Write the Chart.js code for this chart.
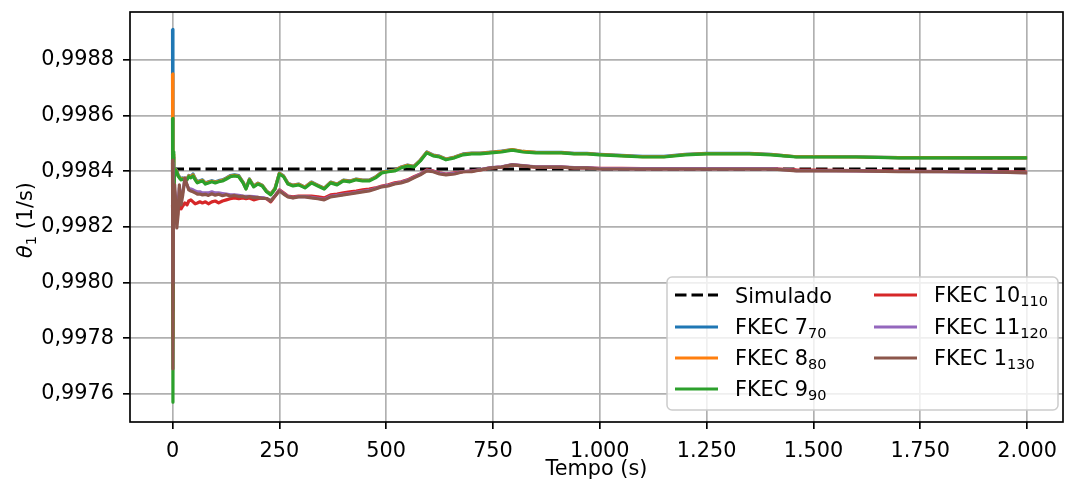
<!DOCTYPE html>
<html>
<head>
<meta charset="utf-8">
<script src="https://cdn.jsdelivr.net/npm/chart.js@4.4.1/dist/chart.umd.min.js"></script>
<style>
  html, body { margin: 0; padding: 0; background: #fff; }
  canvas { display: block; }
</style>
</head>
<body>
<canvas id="grafico" width="1065" height="485"></canvas>
<script>
// tempo (s)
const tempo = [
  0, 1, 2, 3, 5, 7, 10, 13, 16, 20,
  24, 29, 34, 38, 43, 48, 53, 58, 64, 70,
  77, 84, 92, 100, 108, 117, 126, 135, 145, 155,
  165, 172, 180, 190, 200, 210, 220, 230, 240, 250,
  260, 270, 282, 295, 310, 325, 340, 355, 370, 385,
  400, 415, 430, 445, 460, 475, 490, 505, 520, 535,
  550, 565, 580, 595, 610, 625, 640, 660, 680, 700,
  720, 745, 770, 795, 820, 850, 880, 910, 940, 970,
  1000, 1050, 1100, 1150, 1200, 1250, 1300, 1350, 1400, 1430,
  1460, 1500, 1600, 1700, 1800, 1900, 2000
];

const tempoSimulado = [0, 2000];
const simulado = [0.998408, 0.998408];

const fkec7 = [
  0.998910, 0.997900, 0.998450, 0.998330, 0.998402, 0.998409, 0.998402, 0.998387, 0.998380, 0.998373,
  0.998376, 0.998369, 0.998373, 0.998385, 0.998381, 0.998390, 0.998374, 0.998362, 0.998366, 0.998369,
  0.998358, 0.998362, 0.998366, 0.998362, 0.998366, 0.998369, 0.998376, 0.998384, 0.998387, 0.998384,
  0.998361, 0.998339, 0.998372, 0.998347, 0.998357, 0.998350, 0.998329, 0.998318, 0.998339, 0.998393,
  0.998383, 0.998357, 0.998350, 0.998354, 0.998343, 0.998361, 0.998350, 0.998339, 0.998361, 0.998354,
  0.998368, 0.998365, 0.998372, 0.998368, 0.998368, 0.998379, 0.998397, 0.998401, 0.998404, 0.998415,
  0.998422, 0.998418, 0.998440, 0.998469, 0.998458, 0.998454, 0.998444, 0.998451, 0.998462, 0.998465,
  0.998465, 0.998469, 0.998472, 0.998478, 0.998471, 0.998468, 0.998468, 0.998468, 0.998464, 0.998464,
  0.998461, 0.998457, 0.998453, 0.998453, 0.998461, 0.998464, 0.998464, 0.998464, 0.998461, 0.998456,
  0.998452, 0.998452, 0.998452, 0.998449, 0.998449, 0.998448, 0.998448
];

const fkec8 = [
  0.998750, 0.997800, 0.998460, 0.998320, 0.998400, 0.998407, 0.998400, 0.998385, 0.998378, 0.998371,
  0.998374, 0.998367, 0.998371, 0.998383, 0.998379, 0.998387, 0.998372, 0.998360, 0.998364, 0.998367,
  0.998356, 0.998360, 0.998364, 0.998360, 0.998364, 0.998367, 0.998374, 0.998382, 0.998385, 0.998382,
  0.998360, 0.998338, 0.998371, 0.998346, 0.998356, 0.998349, 0.998328, 0.998317, 0.998338, 0.998392,
  0.998382, 0.998356, 0.998349, 0.998353, 0.998342, 0.998360, 0.998349, 0.998338, 0.998360, 0.998353,
  0.998367, 0.998364, 0.998371, 0.998367, 0.998367, 0.998378, 0.998396, 0.998400, 0.998403, 0.998414,
  0.998421, 0.998417, 0.998439, 0.998468, 0.998457, 0.998453, 0.998443, 0.998450, 0.998461, 0.998464,
  0.998464, 0.998468, 0.998471, 0.998478, 0.998471, 0.998468, 0.998467, 0.998467, 0.998463, 0.998463,
  0.998460, 0.998456, 0.998452, 0.998452, 0.998460, 0.998463, 0.998463, 0.998463, 0.998460, 0.998456,
  0.998452, 0.998452, 0.998451, 0.998449, 0.998449, 0.998448, 0.998448
];

const fkec9 = [
  0.998590, 0.997570, 0.998470, 0.998310, 0.998398, 0.998405, 0.998398, 0.998383, 0.998376, 0.998369,
  0.998372, 0.998365, 0.998369, 0.998380, 0.998376, 0.998383, 0.998369, 0.998358, 0.998362, 0.998365,
  0.998354, 0.998358, 0.998362, 0.998358, 0.998362, 0.998365, 0.998372, 0.998380, 0.998383, 0.998380,
  0.998358, 0.998336, 0.998369, 0.998344, 0.998354, 0.998347, 0.998326, 0.998315, 0.998336, 0.998390,
  0.998380, 0.998354, 0.998347, 0.998351, 0.998340, 0.998358, 0.998347, 0.998336, 0.998358, 0.998351,
  0.998365, 0.998362, 0.998369, 0.998365, 0.998365, 0.998376, 0.998394, 0.998398, 0.998401, 0.998412,
  0.998419, 0.998415, 0.998437, 0.998466, 0.998455, 0.998451, 0.998441, 0.998448, 0.998459, 0.998462,
  0.998462, 0.998466, 0.998469, 0.998476, 0.998469, 0.998466, 0.998466, 0.998466, 0.998462, 0.998462,
  0.998459, 0.998455, 0.998451, 0.998451, 0.998459, 0.998462, 0.998462, 0.998462, 0.998459, 0.998455,
  0.998451, 0.998451, 0.998451, 0.998448, 0.998448, 0.998448, 0.998448
];

const fkec10 = [
  0.998280, 0.998200, 0.998300, 0.998220, 0.998250, 0.998230, 0.998220, 0.998260, 0.998280, 0.998265,
  0.998275, 0.998286, 0.998279, 0.998293, 0.998297, 0.998290, 0.998283, 0.998286, 0.998290, 0.998286,
  0.998290, 0.998283, 0.998290, 0.998293, 0.998286, 0.998293, 0.998297, 0.998301, 0.998304, 0.998301,
  0.998304, 0.998301, 0.998304, 0.998297, 0.998301, 0.998304, 0.998301, 0.998290, 0.998311, 0.998333,
  0.998322, 0.998311, 0.998308, 0.998311, 0.998311, 0.998311, 0.998308, 0.998304, 0.998315, 0.998318,
  0.998322, 0.998326, 0.998329, 0.998333, 0.998336, 0.998340, 0.998347, 0.998351, 0.998358, 0.998362,
  0.998369, 0.998380, 0.998390, 0.998405, 0.998401, 0.998394, 0.998390, 0.998394, 0.998398, 0.998401,
  0.998405, 0.998412, 0.998415, 0.998423, 0.998419, 0.998415, 0.998415, 0.998415, 0.998412, 0.998412,
  0.998410, 0.998410, 0.998409, 0.998409, 0.998409, 0.998409, 0.998409, 0.998409, 0.998409, 0.998407,
  0.998405, 0.998404, 0.998402, 0.998400, 0.998399, 0.998398, 0.998397
];

const fkec11 = [
  0.998430, 0.998000, 0.998350, 0.998250, 0.998330, 0.998310, 0.998250, 0.998280, 0.998340, 0.998300,
  0.998325, 0.998370, 0.998350, 0.998338, 0.998336, 0.998333, 0.998329, 0.998326, 0.998326, 0.998322,
  0.998322, 0.998322, 0.998326, 0.998322, 0.998322, 0.998320, 0.998318, 0.998315, 0.998315, 0.998313,
  0.998311, 0.998310, 0.998310, 0.998309, 0.998306, 0.998305, 0.998302, 0.998294, 0.998312, 0.998331,
  0.998320, 0.998309, 0.998305, 0.998309, 0.998309, 0.998306, 0.998303, 0.998299, 0.998310, 0.998313,
  0.998317, 0.998320, 0.998324, 0.998328, 0.998331, 0.998338, 0.998345, 0.998349, 0.998356, 0.998360,
  0.998367, 0.998378, 0.998389, 0.998403, 0.998400, 0.998392, 0.998389, 0.998392, 0.998399, 0.998400,
  0.998406, 0.998413, 0.998416, 0.998424, 0.998420, 0.998416, 0.998416, 0.998416, 0.998413, 0.998413,
  0.998409, 0.998409, 0.998409, 0.998409, 0.998409, 0.998409, 0.998409, 0.998409, 0.998409, 0.998406,
  0.998402, 0.998402, 0.998401, 0.998399, 0.998398, 0.998397, 0.998395
];

const fkec1 = [
  0.998440, 0.997690, 0.998250, 0.998350, 0.998351, 0.998297, 0.998196, 0.998243, 0.998351, 0.998279,
  0.998315, 0.998376, 0.998351, 0.998333, 0.998329, 0.998326, 0.998322, 0.998318, 0.998318, 0.998315,
  0.998317, 0.998313, 0.998319, 0.998314, 0.998317, 0.998312, 0.998316, 0.998310, 0.998313, 0.998309,
  0.998310, 0.998306, 0.998309, 0.998305, 0.998306, 0.998302, 0.998302, 0.998293, 0.998311, 0.998329,
  0.998318, 0.998308, 0.998304, 0.998308, 0.998308, 0.998304, 0.998301, 0.998297, 0.998308, 0.998311,
  0.998315, 0.998318, 0.998322, 0.998326, 0.998329, 0.998336, 0.998344, 0.998347, 0.998354, 0.998358,
  0.998365, 0.998376, 0.998387, 0.998401, 0.998398, 0.998390, 0.998387, 0.998390, 0.998398, 0.998398,
  0.998405, 0.998412, 0.998415, 0.998423, 0.998419, 0.998415, 0.998415, 0.998415, 0.998412, 0.998412,
  0.998408, 0.998408, 0.998408, 0.998408, 0.998408, 0.998408, 0.998408, 0.998408, 0.998408, 0.998405,
  0.998401, 0.998401, 0.998401, 0.998398, 0.998398, 0.998398, 0.998394
];

const xTicks = [0, 250, 500, 750, 1000, 1250, 1500, 1750, 2000];
const yTicks = [0.9976, 0.9978, 0.998, 0.9982, 0.9984, 0.9986, 0.9988];

const FONT = '"DejaVu Sans", sans-serif';

// pt-BR style labels: 1.000 / 0,9984
function fmtX(v) {
  if (v >= 1000) return Math.floor(v / 1000) + '.' + String(v % 1000).padStart(3, '0');
  return String(v);
}
function fmtY(v) {
  return v.toFixed(4).replace('.', ',');
}

function pontos(t, vals) {
  return t.map((x, i) => ({ x: x, y: vals[i] }));
}

const series = [
  { label: 'Simulado', sub: '', color: '#000000', t: tempoSimulado, v: simulado, dash: true },
  { label: 'FKEC 7', sub: '70', color: '#1f77b4', t: tempo, v: fkec7 },
  { label: 'FKEC 8', sub: '80', color: '#ff7f0e', t: tempo, v: fkec8 },
  { label: 'FKEC 9', sub: '90', color: '#2ca02c', t: tempo, v: fkec9 },
  { label: 'FKEC 10', sub: '110', color: '#d62728', t: tempo, v: fkec10 },
  { label: 'FKEC 11', sub: '120', color: '#9467bd', t: tempo, v: fkec11 },
  { label: 'FKEC 1', sub: '130', color: '#8c564b', t: tempo, v: fkec1 }
];

const datasets = series.map((s, i) => ({
  label: s.label + s.sub,
  data: pontos(s.t, s.v),
  borderColor: s.color,
  borderWidth: 3.2,
  borderDash: s.dash ? [11.5, 5] : [],
  borderJoinStyle: 'round',
  pointRadius: 0,
  fill: false,
  tension: 0,
  order: series.length - i // later series drawn on top, like matplotlib
}));

// frame around the plot area
const moldura = {
  id: 'moldura',
  afterDatasetsDraw(chart) {
    const { ctx, chartArea: a } = chart;
    ctx.save();
    ctx.strokeStyle = '#000';
    ctx.lineWidth = 1.67;
    ctx.strokeRect(a.left, a.top, a.right - a.left, a.bottom - a.top);
    ctx.restore();
  }
};

// y label with italic theta and subscript
const tituloY = {
  id: 'tituloY',
  afterDraw(chart) {
    const ctx = chart.ctx;
    const a = chart.chartArea;
    ctx.save();
    ctx.translate(32, (a.top + a.bottom) / 2 + 3);
    ctx.rotate(-Math.PI / 2);
    ctx.fillStyle = '#000';
    ctx.textBaseline = 'alphabetic';
    const fTheta = 'italic 20.8px ' + FONT;
    const fSub = '14.5px ' + FONT;
    const fTxt = '20.8px ' + FONT;
    ctx.font = fTheta; const w1 = ctx.measureText('θ').width;
    ctx.font = fSub; const w2 = ctx.measureText('1').width;
    ctx.font = fTxt; const w3 = ctx.measureText(' (1/s)').width;
    let x = -(w1 + w2 + w3) / 2;
    ctx.font = fTheta; ctx.fillText('θ', x, 0); x += w1;
    ctx.font = fSub; ctx.fillText('1', x, 4); x += w2;
    ctx.font = fTxt; ctx.fillText(' (1/s)', x, 0);
    ctx.restore();
  }
};

// legend box, two columns, with subscripts
const legenda = {
  id: 'legenda',
  afterDraw(chart) {
    const ctx = chart.ctx;
    const bx = 667, by = 277, bw = 391, bh = 133, r = 5;
    ctx.save();
    ctx.beginPath();
    ctx.moveTo(bx + r, by);
    ctx.arcTo(bx + bw, by, bx + bw, by + bh, r);
    ctx.arcTo(bx + bw, by + bh, bx, by + bh, r);
    ctx.arcTo(bx, by + bh, bx, by, r);
    ctx.arcTo(bx, by, bx + bw, by, r);
    ctx.closePath();
    ctx.fillStyle = 'rgba(255,255,255,0.8)';
    ctx.fill();
    ctx.strokeStyle = '#cccccc';
    ctx.lineWidth = 1.5;
    ctx.stroke();

    const rows = [295, 327, 358, 389];
    const cols = [{ lx: 675, tx: 735 }, { lx: 874, tx: 934 }];
    series.forEach((s, i) => {
      const c = cols[i < 4 ? 0 : 1];
      const y = rows[i < 4 ? i : i - 4];
      ctx.beginPath();
      ctx.setLineDash(s.dash ? [11.5, 5] : []);
      ctx.strokeStyle = s.color;
      ctx.lineWidth = 3;
      ctx.moveTo(c.lx, y);
      ctx.lineTo(c.lx + 43, y);
      ctx.stroke();
      ctx.setLineDash([]);
      ctx.fillStyle = '#000';
      ctx.textBaseline = 'alphabetic';
      ctx.font = '20.8px ' + FONT;
      const base = s.sub ? y + 7 : y + 8;
      ctx.fillText(s.label, c.tx, base);
      if (s.sub) {
        const w = ctx.measureText(s.label).width;
        ctx.font = '14.5px ' + FONT;
        ctx.fillText(s.sub, c.tx + w, base + 3.5);
      }
    });
    ctx.restore();
  }
};

const tickFont = { family: FONT, size: 20.8 };

new Chart(document.getElementById('grafico'), {
  type: 'line',
  data: { datasets: datasets },
  options: {
    responsive: false,
    animation: false,
    devicePixelRatio: 1,
    layout: { padding: { top: 12, right: 2, left: 0, bottom: 0 } },
    plugins: {
      legend: { display: false },
      tooltip: { enabled: false }
    },
    scales: {
      x: {
        type: 'linear',
        min: -99.5,
        max: 2084,
        afterFit: s => { s.height = 63; s.paddingLeft = 0; s.paddingRight = 0; },
        afterBuildTicks: s => { s.ticks = xTicks.map(v => ({ value: v })); },
        ticks: {
          color: '#000',
          font: tickFont,
          padding: 10,
          maxRotation: 0,
          autoSkip: false,
          callback: v => fmtX(v)
        },
        grid: { color: '#b0b0b0', lineWidth: 1.67, tickColor: '#000', tickLength: 7, tickWidth: 1.67 },
        border: { display: false },
        title: {
          display: true,
          text: 'Tempo (s)',
          color: '#000',
          font: tickFont,
          padding: { top: 0, bottom: 3 }
        }
      },
      y: {
        min: 0.997499,
        max: 0.998972,
        afterFit: s => { s.width = 130; s.paddingTop = 0; s.paddingBottom = 0; },
        afterBuildTicks: s => { s.ticks = yTicks.map(v => ({ value: v })); },
        ticks: {
          color: '#000',
          font: tickFont,
          padding: 9,
          autoSkip: false,
          callback: v => fmtY(v)
        },
        grid: { color: '#b0b0b0', lineWidth: 1.67, tickColor: '#000', tickLength: 7, tickWidth: 1.67 },
        border: { display: false }
      }
    }
  },
  plugins: [moldura, tituloY, legenda]
});
</script>
</body>
</html>
